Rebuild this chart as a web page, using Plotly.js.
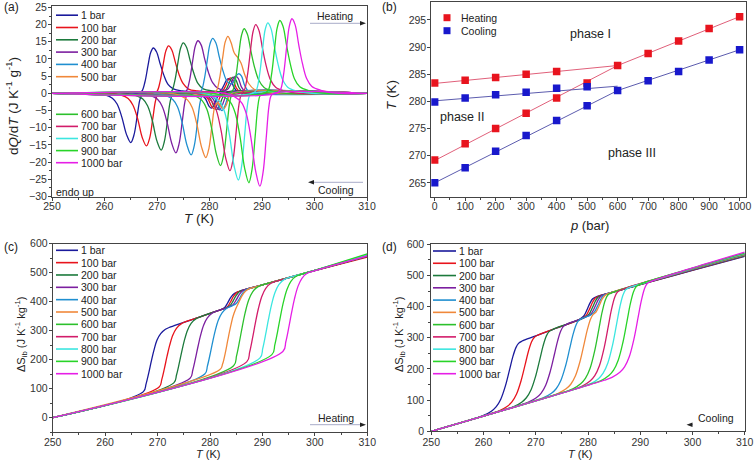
<!DOCTYPE html>
<html><head><meta charset="utf-8">
<script src="https://cdn.plot.ly/plotly-3.0.1.min.js"></script>
<style>html,body{margin:0;padding:0;background:#fff}#chart{width:756px;height:464px}</style>
</head><body><div id="chart"></div>
<script>
// ---------- shared ----------
const pressures = ["1 bar","100 bar","200 bar","300 bar","400 bar","500 bar","600 bar","700 bar","800 bar","900 bar","1000 bar"];
const colors = ["#1a1a9c","#e8141c","#1c7a3c","#7c1fa0","#1f8fd0","#f0883a","#2cc02c","#d21c6a","#3ce6e0","#28d428","#e61ee6"];

// ---------- (a) dQ/dT heating ----------
const aHeatT = [
 [250,266.3,267.1,267.7,268.3,268.8,269.3,269.9,270.6,271.3,272.1,273.1,274.8,277.5,281.2,282.0,282.7,283.2,283.6,284.1,284.7,285.4,286.4,310],
 [250,269.2,270.0,270.6,271.2,271.7,272.2,272.8,273.5,274.2,275.0,276.0,277.7,280.5,282.4,283.1,283.6,284.0,284.5,285.1,285.8,286.8,310],
 [250,272.0,272.8,273.4,274.0,274.5,275.0,275.6,276.3,277.0,277.8,278.8,280.5,282.9,283.6,284.1,284.5,285.0,285.6,286.3,287.3,310],
 [250,274.8,275.6,276.2,276.8,277.3,277.8,278.4,279.1,279.8,280.6,281.6,283.3,284.1,284.6,285.0,285.5,286.1,286.8,287.8,310],
 [250,277.6,278.4,279.0,279.6,280.1,280.6,281.2,281.9,282.6,283.4,284.2,284.8,285.2,285.6,286.1,286.7,287.4,288.5,310],
 [250,280.5,281.3,281.9,282.5,283.0,283.5,284.1,284.7,285.4,286.0,286.7,287.5,288.5,290.0,292.0,310],
 [250,283.6,284.4,285.0,285.6,286.1,286.6,287.2,287.9,288.6,289.4,290.4,292.1,294.5,310],
 [250,285.8,286.6,287.2,287.8,288.3,288.8,289.4,290.1,290.8,291.6,292.6,294.3,297.0,310],
 [250,288.1,288.9,289.5,290.1,290.6,291.1,291.7,292.4,293.1,293.9,294.9,296.6,299.5,310],
 [250,290.4,291.2,291.8,292.4,292.9,293.4,294.0,294.7,295.4,296.2,297.2,298.9,302.0,310],
 [250,292.7,293.5,294.1,294.7,295.2,295.7,296.3,297.0,297.7,298.5,299.5,301.2,304.5,310]
];
const aHeatQ = [
 [0,0,0.6,3.3,8.2,11.9,13.2,12.1,8.6,5.3,2.6,1.3,0.7,0.45,0.4,0.6,2.2,3.8,4.3,3.7,1.6,0.4,0,0],
 [0,0,0.6,3.5,8.6,12.4,13.8,12.7,9.0,5.5,2.8,1.25,0.7,0.45,0.6,2.3,4.0,4.5,3.8,1.6,0.4,0,0],
 [0,0,0.65,3.7,9.1,13.2,14.7,13.5,9.6,5.9,2.9,1.3,0.75,0.7,2.5,4.2,4.7,4.0,1.7,0.4,0,0],
 [0,0,0.7,3.8,9.5,13.8,15.3,14.1,9.9,6.1,3.1,1.5,1.0,2.8,4.5,5.0,4.3,1.8,0.45,0,0],
 [0,0,0.7,4.0,9.9,14.4,16.0,14.7,10.4,6.4,3.4,2.8,3.9,5.3,5.7,5.0,2.3,0.6,0,0],
 [0,0,0.7,4.2,10.3,15.0,16.6,14.8,11.8,10.4,8.8,5.5,2.8,1.2,0.4,0,0],
 [0,0,0.8,4.7,11.7,16.9,18.8,17.3,12.2,7.5,3.8,1.7,0.6,0,0],
 [0,0,0.9,5.0,12.4,18.0,20.0,18.4,13.0,8.0,4.0,1.8,0.7,0,0],
 [0,0,0.9,5.1,12.7,18.5,20.5,18.9,13.3,8.2,4.1,1.8,0.7,0,0],
 [0,0,0.95,5.3,13.1,19.1,21.2,19.5,13.8,8.5,4.2,1.9,0.8,0,0],
 [0,0,1.0,5.4,13.5,19.5,21.7,20.0,14.1,8.7,4.3,2.0,0.9,0,0]
];
// ---------- (a) dQ/dT cooling ----------
const aCoolT = [
 [250,258.5,260.0,261.5,262.4,263.3,264.2,265.0,265.6,266.2,266.7,267.1,267.6,277.6,278.3,279.2,279.9,280.4,280.9,281.5,282.1,310],
 [250,261.5,263.0,264.5,265.4,266.3,267.2,268.0,268.6,269.2,269.7,270.1,270.6,278.1,278.8,279.7,280.4,280.9,281.4,282.0,282.6,310],
 [250,264.3,265.8,267.3,268.2,269.1,270.0,270.8,271.4,272.0,272.5,272.9,273.4,278.6,279.3,280.2,280.9,281.4,281.9,282.5,283.1,310],
 [250,267.1,268.6,270.1,271.0,271.9,272.8,273.6,274.2,274.8,275.3,275.7,276.2,279.1,279.8,280.7,281.4,281.9,282.4,283.0,283.6,310],
 [250,270.0,271.5,273.0,273.9,274.8,275.7,276.5,277.1,277.7,278.2,278.6,279.1,279.6,280.3,281.2,281.9,282.4,282.9,283.5,284.1,310],
 [250,272.8,274.3,275.8,276.7,277.6,278.5,279.3,279.9,280.5,281.0,281.5,282.1,282.7,283.2,283.7,284.3,310],
 [250,275.6,277.1,278.6,279.5,280.4,281.3,282.1,282.7,283.3,283.8,284.2,284.7,310],
 [250,277.4,278.9,280.4,281.3,282.2,283.1,283.9,284.5,285.1,285.6,286.0,286.5,310],
 [250,279.0,280.5,282.0,282.9,283.8,284.7,285.5,286.1,286.7,287.2,287.6,288.1,310],
 [250,281.0,282.5,284.0,284.9,285.8,286.7,287.5,288.1,288.7,289.2,289.6,290.1,310],
 [250,283.1,284.6,286.1,287.0,287.9,288.8,289.6,290.2,290.8,291.3,291.7,292.2,310]
];
const aCoolQ = [
 [0,0,-0.4,-1.4,-3.1,-6.9,-12.0,-14.3,-12.2,-6.9,-2.1,-0.4,0,-0.1,-0.4,-1.5,-3.7,-4.3,-3.2,-1.1,0,0],
 [0,0,-0.46,-1.5,-3.4,-7.3,-12.9,-15.3,-13.0,-7.3,-2.3,-0.46,0,-0.1,-0.4,-1.6,-3.8,-4.5,-3.4,-1.1,0,0],
 [0,0,-0.5,-1.65,-3.6,-7.9,-13.9,-16.5,-14.0,-7.9,-2.5,-0.5,0,-0.1,-0.4,-1.6,-4.0,-4.7,-3.5,-1.2,0,0],
 [0,0,-0.5,-1.7,-3.8,-8.3,-14.5,-17.3,-14.7,-8.3,-2.6,-0.5,0,-0.1,-0.4,-1.7,-4.1,-4.8,-3.6,-1.2,0,0],
 [0,0,-0.55,-1.8,-3.9,-8.6,-15.0,-17.9,-15.2,-8.6,-2.7,-0.6,-0.15,-0.15,-0.45,-1.8,-4.3,-5.0,-3.75,-1.25,0,0],
 [0,0,-0.56,-1.9,-4.1,-9.0,-15.7,-18.7,-15.9,-9.0,-4.0,-2.8,-3.7,-4.5,-3.4,-1.1,0,0],
 [0,0,-0.63,-2.1,-4.6,-10.1,-17.6,-21.0,-17.9,-10.1,-3.2,-0.6,0,0],
 [0,0,-0.68,-2.25,-4.95,-10.8,-18.9,-22.5,-19.1,-10.8,-3.4,-0.68,0,0],
 [0,0,-0.76,-2.5,-5.5,-12.1,-21.2,-25.2,-21.4,-12.1,-3.8,-0.76,0,0],
 [0,0,-0.78,-2.6,-5.7,-12.5,-21.8,-26.0,-22.1,-12.5,-3.9,-0.78,0,0],
 [0,0,-0.8,-2.7,-5.9,-13.0,-22.7,-27.0,-23.0,-13.0,-4.0,-0.8,0,0]
];

// ---------- (b) phase diagram ----------
const bHeatP_II_I = [0,100,200,300,400];
const bHeatT_II_I = [283.4,283.9,284.4,285.0,285.5];
const bHeatP_III_II = [0,100,200,300,400,500];
const bHeatT_III_II = [269.2,272.2,275.0,277.8,280.6,283.4];
const bHeatP_III_I = [600,700,800,900,1000];
const bHeatT_III_I = [286.6,288.8,291.1,293.4,295.6];
const bCoolP_I_II = [0,100,200,300,400,500];
const bCoolT_I_II = [279.9,280.6,281.2,281.7,282.4,282.7];
const bCoolP_II_III = [0,100,200,300,400,500,600,700,800,900,1000];
const bCoolT_II_III = [265.0,267.8,270.8,273.7,276.5,279.2,282.0,283.8,285.5,287.6,289.5];
// fitted boundary lines
const fitP_low = [0,600];
const fitP_high = [600,1000];
const fitHeatUpper = [283.3,286.6];
const fitHeatLower = [269.1,286.6];
const fitHeatHigh = [286.6,295.6];
const fitCoolUpper = [280.1,282.8];
const fitCoolLower = [265.0,282.0];
const fitCoolHigh = [282.0,289.5];

// ---------- (c) entropy, heating ----------
const cT = [
 [250,267.3,267.8,268.3,268.8,269.3,269.9,270.6,271.5,272.5,275.0,278.0,280.0,282.1,282.8,283.4,284.0,284.7,285.6,290.0,300.0,310],
 [250,270.3,270.8,271.3,271.8,272.3,272.9,273.6,274.5,277.0,280.0,282.6,283.3,283.9,284.5,285.2,286.1,290.0,300.0,310],
 [250,273.1,273.6,274.1,274.6,275.1,275.7,276.4,277.3,280.0,283.1,283.8,284.4,285.0,285.7,286.6,290.0,300.0,310],
 [250,276.2,276.7,277.2,277.7,278.2,278.8,279.5,280.4,282.0,283.7,284.4,285.0,285.6,286.3,287.2,290.0,300.0,310],
 [250,279.0,279.5,280.0,280.5,281.0,281.6,282.3,283.2,284.3,285.0,285.6,286.2,286.9,287.8,290.0,300.0,310],
 [250,281.9,282.4,282.9,283.4,283.9,284.4,284.9,285.5,286.1,286.8,287.6,288.5,292.0,300.0,310],
 [250,284.5,285.05,285.6,286.15,286.7,287.36,288.13,289.12,292.0,300.0,310],
 [250,287.0,287.55,288.1,288.65,289.2,289.86,290.63,291.62,294.0,300.0,310],
 [250,289.5,290.05,290.6,291.15,291.7,292.36,293.13,294.12,297.0,300.0,310],
 [250,291.8,292.35,292.9,293.45,294.0,294.66,295.43,296.42,300.0,310],
 [250,293.9,294.45,295.0,295.55,296.1,296.76,297.53,298.52,300.0,310]
];
const cS = [
 [0,90,116,153,194,232,268,290,305,313,329,347,360,373,380,397,416,429,436,458,507,556],
 [0,105.6,131.5,169.3,211.1,249.2,284.2,308.2,323.6,341,359.7,375.8,382,399,419,433,438.5,458,507,554],
 [0,120.1,146.4,184.6,227.1,265.7,301.1,325.4,340.9,359.7,378.9,386,402,422,436,441,458,508,556],
 [0,136.2,162.8,201.7,244.7,283.9,319.8,344.4,360.1,371.9,382.6,390,406,425,439,444,458,508,557],
 [0,150.8,177.8,217.1,260.7,300.4,336.8,361.5,377.4,386.3,394,410,429,442,447,458,508,558],
 [0,165.9,185,222,268,312,350,375,398,420,437,446,450.5,468,508,559],
 [0,179.4,212.4,260.4,313.4,361.3,404.7,433.7,451.1,468,508,561],
 [0,192.4,225.4,273.2,326.1,373.9,417.3,446.2,463.6,478,508,560],
 [0,205.4,238.3,286.1,338.9,386.6,429.9,458.7,476.1,493,508,562],
 [0,217.4,250.1,297.9,350.6,398.3,441.4,470.2,487.6,508,565],
 [0,228.3,261,308.7,361.3,408.9,452,480.7,498.1,507,558]
];

// ---------- (d) entropy, cooling ----------
const dT = [
 [250,258.5,260.0,261.5,262.4,263.3,264.2,265.0,265.6,266.2,266.7,267.3,270.0,274.0,278.4,279.2,279.9,280.4,280.9,281.5,285.0,290.0,300.0,310],
 [250,261.5,263.0,264.5,265.4,266.3,267.2,268.0,268.6,269.2,269.7,270.4,274.0,278.9,279.7,280.4,280.9,281.4,282.0,285.0,290.0,300.0,310],
 [250,264.3,265.8,267.3,268.2,269.1,270.0,270.8,271.4,272.0,272.5,273.3,276.0,279.4,280.2,280.9,281.4,281.9,282.5,285.0,290.0,300.0,310],
 [250,267.1,268.6,270.1,271.0,271.9,272.8,273.6,274.2,274.8,275.3,276.0,279.9,280.7,281.4,281.9,282.4,283.0,285.0,290.0,300.0,310],
 [250,270.0,271.5,273.0,273.9,274.8,275.7,276.5,277.1,277.7,278.2,278.9,280.4,281.2,281.9,282.4,282.9,283.5,285.0,290.0,300.0,310],
 [250,272.8,274.3,275.8,276.7,277.6,278.5,279.3,279.9,280.5,281.0,281.5,282.2,282.7,283.2,283.8,285.0,290.0,300.0,310],
 [250,275.6,277.1,278.6,279.5,280.4,281.3,282.1,282.7,283.3,283.8,284.3,285.0,290.0,300.0,310],
 [250,277.4,278.9,280.4,281.3,282.2,283.1,283.9,284.5,285.1,285.6,286.2,290.0,300.0,310],
 [250,279.0,280.5,282.0,282.9,283.8,284.7,285.5,286.1,286.7,287.2,287.8,290.0,300.0,310],
 [250,281.0,282.5,284.0,284.9,285.8,286.7,287.5,288.1,288.7,289.2,289.8,300.0,310],
 [250,283.1,284.6,286.1,287.0,287.9,288.8,289.6,290.2,290.8,291.3,291.9,300.0,310]
];
const dS = [
 [0,42.1,50.9,64.5,78.3,103.1,146.4,198.8,238.6,268.5,282.2,288.8,306,331.4,359.4,370,393.3,412.1,425.3,430.9,447,471,516,561],
 [0,56.9,65.8,79.6,93.4,118.8,162.9,216.3,256.9,287.3,301.2,308.6,331.4,362.5,373,396.1,414.8,427.8,433.3,447,471,517,563],
 [0,70.8,79.6,93.5,107.7,133.4,178.3,232.6,273.9,304.9,319,327,344.1,365.7,376.2,399,417.4,430.2,435.8,447.5,471.5,518,564],
 [0,84.6,93.5,107.6,121.9,148.0,193.7,248.9,291.0,322.4,336.7,344.1,369,379.3,401.9,420,432.8,438.3,448,472,519,565],
 [0,99,107.9,122.1,136.6,163.2,209.6,265.9,308.7,340.6,355.2,362.5,372.1,382.4,404.6,422.7,435.2,440.7,448,472.5,520,566],
 [0,112.9,121.8,136.2,151.0,178.2,225.9,283.7,327.7,360.5,375.4,382,405,424,435,441.5,448.5,473,521,567],
 [0,126.7,136,152.3,169.6,202.3,259.8,329.5,382.1,420.6,437.3,442.5,447.5,473.5,522,568],
 [0,135.6,145,161.2,178.5,211.2,268.7,338.4,390.9,429.4,446.2,452.5,474,522.5,569],
 [0,143.6,152.9,168.9,186.4,219.0,276.6,346.3,398.8,437.2,454.0,460.5,472.5,523,570],
 [0,153.5,162.8,179,196.3,229,286.5,356.1,408.6,447.1,463.8,470.5,523.5,572],
 [0,163.8,173.2,189.3,206.7,239.2,296.7,366.1,418.5,456.9,473.6,480,524,575]
];

// ---------- build ----------
const W = 756, H = 464;
const X = px => px / W, Y = py => 1 - py / H;
const FONT = "Liberation Sans, Arial, sans-serif";
const traces = [];
function curve(x, y, color, xa, ya, w) {
  traces.push({type:"scatter", mode:"lines", x:x, y:y, xaxis:xa, yaxis:ya,
    line:{color:color, width:w || 1.3, shape:"spline", smoothing:1},
    hoverinfo:"skip", showlegend:false});
}
pressures.forEach((p, i) => {
  curve(aHeatT[i], aHeatQ[i], colors[i], "x", "y");
  curve(aCoolT[i], aCoolQ[i], colors[i], "x", "y");
});
// (b)
const redLine = "#e0607a", blueLine = "#5c5cae", redMk = "#e8141e", blueMk = "#1818cc";
function fitLine(x, y, c) {
  traces.push({type:"scatter", mode:"lines", x:x, y:y, xaxis:"x2", yaxis:"y2",
    line:{color:c, width:1}, hoverinfo:"skip", showlegend:false});
}
fitLine(fitP_low, fitHeatUpper, redLine);
fitLine(fitP_low, fitHeatLower, redLine);
fitLine(fitP_high, fitHeatHigh, redLine);
fitLine(fitP_low, fitCoolUpper, blueLine);
fitLine(fitP_low, fitCoolLower, blueLine);
fitLine(fitP_high, fitCoolHigh, blueLine);
function pts(x, y, c) {
  traces.push({type:"scatter", mode:"markers", x:x, y:y, xaxis:"x2", yaxis:"y2",
    marker:{symbol:"square", size:7.5, color:c}, hoverinfo:"skip", showlegend:false});
}
pts(bHeatP_II_I, bHeatT_II_I, redMk);
pts(bHeatP_III_II, bHeatT_III_II, redMk);
pts(bHeatP_III_I, bHeatT_III_I, redMk);
pts(bCoolP_I_II, bCoolT_I_II, blueMk);
pts(bCoolP_II_III, bCoolT_II_III, blueMk);
// (c), (d)
pressures.forEach((p, i) => curve(cT[i], cS[i], colors[i], "x3", "y3"));
pressures.forEach((p, i) => curve(dT[i], dS[i], colors[i], "x4", "y4"));

// ---------- axes ----------
function axis(domain, range, dtick, tick0, minorD, anchor, standoff) {
  return {domain:domain, range:range, dtick:dtick, tick0:tick0, anchor:anchor,
    showline:true, mirror:true, linecolor:"#444", linewidth:1,
    ticks:"outside", ticklen:3, tickcolor:"#444", tickwidth:1,
    ticklabelstandoff: standoff,
    showgrid:false, zeroline:false, fixedrange:true,
    tickfont:{family:FONT, size:10.5, color:"#333"},
    minor: minorD ? {ticks:"outside", ticklen:2, dtick:minorD, tickcolor:"#444", showgrid:false} : undefined};
}

const shapes = [], ann = [];
function text(t, px, py, size, opts) {
  ann.push(Object.assign({text:t, x:X(px), y:Y(py), xref:"paper", yref:"paper",
    xanchor:"center", yanchor:"middle",
    showarrow:false, font:{family:FONT, size:size, color:"#222"}}, opts || {}));
}
function legendBlock(x0, x1, tx, y0, dy, idx) {
  idx.forEach((i, k) => {
    const y = y0 + k * dy;
    shapes.push({type:"line", xref:"paper", yref:"paper", x0:X(x0), x1:X(x1), y0:Y(y), y1:Y(y),
      line:{color:colors[i], width:1.6}});
    text(pressures[i], tx, y, 10.5, {xanchor:"left"});
  });
}
const all = pressures.map((p, i) => i);
legendBlock(56, 78, 79, 15.2, 12.3, [0,1,2,3,4,5]);
legendBlock(56, 78, 79, 114.3, 12.1, [6,7,8,9,10]);
legendBlock(56, 78, 79, 250.3, 12.34, all);
legendBlock(433, 456, 457, 251, 12.27, all);

// (b) legend
[[17.7, redMk, "Heating"], [30.7, blueMk, "Cooling"]].forEach(r => {
  shapes.push({type:"rect", xref:"paper", yref:"paper", x0:X(443.5), x1:X(450.5), y0:Y(r[0]-3.5), y1:Y(r[0]+3.5),
    fillcolor:r[1], line:{width:0}});
  text(r[2], 459, r[0], 10.5, {xanchor:"left"});
});

// direction arrows: grey shaft + small black head (paper-coordinate shapes)
function arrow(xa, xb, y, headX, dir) {
  shapes.push({type:"line", xref:"paper", yref:"paper", x0:X(xa), x1:X(xb), y0:Y(y), y1:Y(y),
    line:{color:"#a8acc8", width:1}});
  const bx = headX - dir * 6;
  shapes.push({type:"path", xref:"paper", yref:"paper",
    path:"M" + X(headX) + "," + Y(y) + " L" + X(bx) + "," + Y(y - 2.2) + " L" + X(bx) + "," + Y(y + 2.2) + " Z",
    fillcolor:"#222", line:{width:0}});
}
arrow(310, 362, 23.3, 366, 1);
text("Heating", 335, 15.7, 10.5);
arrow(313, 363, 182.3, 308, -1);
text("Cooling", 336, 189.5, 10.5);
arrow(310, 362, 424.7, 366, 1);
text("Heating", 336, 417.7, 10.5);
arrow(690, 693, 424.7, 686.5, -1);
text("Cooling", 716, 418, 10.5);
text("endo up", 54, 191.5, 10.5, {xanchor:"left"});

// (b) phase labels
text("phase I", 590, 34.3, 12.5);
text("phase II", 462, 117.3, 12.5);
text("phase III", 632, 153.3, 12.5);

// panel labels
text("(a)", 2, 7, 12, {xanchor:"left"});
text("(b)", 380, 7, 12, {xanchor:"left"});
text("(c)", 2, 247, 12, {xanchor:"left"});
text("(d)", 380, 247, 12, {xanchor:"left"});

// axis titles
text("d<i>Q</i>/d<i>T</i> (J K<sup>-1</sup> g<sup>-1</sup>)", 12, 106, 13.5, {textangle:-90});
text("<i>T</i> (K)", 199, 218, 13.5);
text("<i>T</i> (K)", 391, 95, 13.5, {textangle:-90});
text("<i>p</i> (bar)", 589, 226, 13);
text("ΔS<sub>ib</sub> (J K<sup>-1</sup> kg<sup>-1</sup>)", 21, 335, 11, {textangle:-90});
text("<i>T</i> (K)", 207.5, 454, 11);
text("ΔS<sub>ib</sub> (J K<sup>-1</sup> kg<sup>-1</sup>)", 399, 335, 11, {textangle:-90});
text("<i>T</i> (K)", 580, 454, 11);

const layout = {
  width:W, height:H, margin:{l:0, r:0, t:0, b:0},
  paper_bgcolor:"#fff", plot_bgcolor:"#fff", showlegend:false,
  font:{family:FONT, color:"#222"},
  xaxis:  axis([X(52), X(367)], [250,310], 10, 250, 5, "y", -3),
  yaxis:  axis([Y(196.5), Y(5.7)], [-30,25.5], 5, -30, 2.5, "x", -1),
  xaxis2: axis([X(431.3), X(745.7)], [-11,1020], 100, 0, 50, "y2", -3),
  yaxis2: axis([Y(196.7), Y(1.7)], [262.45,298.35], 5, 265, null, "x2", -1),
  xaxis3: axis([X(52.7), X(367.3)], [250,310], 10, 250, 5, "y3", -3),
  yaxis3: axis([Y(432.2), Y(243.7)], [-50,600], 100, 0, 50, "x3", -1),
  xaxis4: axis([X(431.3), X(744.7)], [250,310], 10, 250, 5, "y4", -2),
  yaxis4: axis([Y(431.3), Y(244.3)], [0,600], 100, 0, 50, "x4", 1),
  shapes:shapes, annotations:ann
};
Plotly.newPlot("chart", traces, layout, {staticPlot:true, displayModeBar:false});
</script>
</body></html>
